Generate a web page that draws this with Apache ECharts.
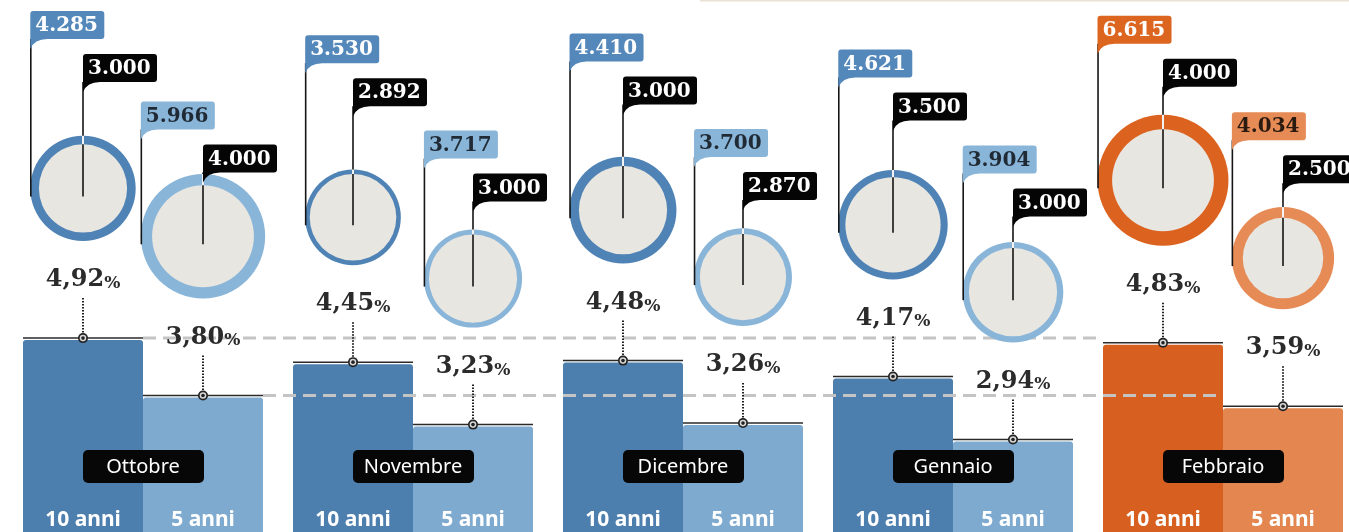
<!DOCTYPE html>
<html><head><meta charset="utf-8">
<script src="https://cdn.jsdelivr.net/npm/echarts@6/dist/echarts.min.js"></script>
<style>html,body{margin:0;padding:0;background:#fff}#c{width:1349px;height:532px}</style>
</head><body><div id="c"></div>
<script>
// ---- data ----
const months = ['Ottobre', 'Novembre', 'Dicembre', 'Gennaio', 'Febbraio'];
const tenors = ['10 anni', '5 anni'];
const yield10 = [4.92, 4.45, 4.48, 4.17, 4.83];     // rendimento BTP 10 anni (%)
const yield5 = [3.80, 3.23, 3.26, 2.94, 3.59];      // rendimento BTP 5 anni (%)
const requested10 = [4285, 3530, 4410, 4621, 6615]; // domanda 10 anni (mln)
const offered10 = [3000, 2892, 3000, 3500, 4000];   // offerta 10 anni (mln)
const requested5 = [5966, 3717, 3700, 3904, 4034];  // domanda 5 anni (mln)
const offered5 = [4000, 3000, 2870, 3000, 2500];    // offerta 5 anni (mln)
const highlightMonth = 'Febbraio';

// ---- style ----
const COL = {
  bar: [['#4c7eae', '#7eaad0'], ['#d75f1f', '#e3864f']],
  ring: [['#4f83b5', '#89b5d9'], ['#dc621f', '#e68b56']],
  flag: [['#5488bb', '#89b5d9'], ['#dc6520', '#e68b56']],
  flagText: [['#ffffff', '#1f2a35'], ['#ffffff', '#2a1a10']],
  inner: '#e8e6e1'
};
const BAR_W = 120;
const K = 0.805;
const SERIF = '"DejaVu Serif", Georgia, serif';
const SANS = '"Noto Sans", "Open Sans", sans-serif';

const fmtK = n => String(n).replace(/\B(?=(\d{3})+(?!\d))/g, '.');
const fmtPct = v => v.toFixed(2).replace('.', ',');
const isHi = i => months[i] === highlightMonth ? 1 : 0;

const annData = [];
months.forEach((m, i) => {
  annData.push([i, yield10[i], requested10[i], offered10[i], 0]);
  annData.push([i, yield5[i], requested5[i], offered5[i], 1]);
});

function flagPath(fx, fy, w, h) {
  return 'M' + fx + ',' + (fy + 3) + ' Q' + fx + ',' + fy + ' ' + (fx + 3) + ',' + fy +
    ' L' + (fx + w - 3) + ',' + fy + ' Q' + (fx + w) + ',' + fy + ' ' + (fx + w) + ',' + (fy + 3) +
    ' L' + (fx + w) + ',' + (fy + h - 3) + ' Q' + (fx + w) + ',' + (fy + h) + ' ' + (fx + w - 3) + ',' + (fy + h) +
    ' L' + (fx + 17) + ',' + (fy + h) + ' Q' + (fx + 4) + ',' + (fy + h) + ' ' + fx + ',' + (fy + h + 10) + ' Z';
}

function renderAnn(params, api) {
  const i = api.value(0), v = api.value(1), req = api.value(2), off = api.value(3), t = api.value(4);
  const hi = isHi(i);
  const cxGroup = api.coord([i, 5])[0];
  const x = cxGroup + (t === 0 ? -BAR_W / 2 : BAR_W / 2);
  const top = api.coord([i, v])[1];
  const lineY = top - 2;
  const rO = K * Math.sqrt(req), rI = K * Math.sqrt(off);
  const cy = top - 99 - rO;
  const blackTop = top - (t === 0 ? 286 : 253);
  const colTop = blackTop - 43;
  const fh = 28, fw = 74;
  const ch = [];
  ch.push({ type: 'circle', shape: { cx: x, cy: cy, r: rO }, style: { fill: COL.ring[hi][t] } });
  ch.push({ type: 'circle', shape: { cx: x, cy: cy, r: rI }, style: { fill: COL.inner } });
  ch.push({ type: 'line', shape: { x1: x - rO + 0.5, y1: colTop + fh, x2: x - rO + 0.5, y2: cy + 8 }, style: { stroke: '#151515', lineWidth: 1.6 } });
  ch.push({ type: 'line', shape: { x1: x, y1: blackTop + fh, x2: x, y2: cy + 8 }, style: { stroke: '#151515', lineWidth: 1.6 } });
  ch.push({ type: 'line', shape: { x1: x, y1: cy - rO, x2: x, y2: cy - rI }, style: { stroke: '#f2f2f2', lineWidth: 2 } });
  ch.push({ type: 'path', shape: { pathData: flagPath(x - rO, colTop, fw, fh) }, style: { fill: COL.flag[hi][t] } });
  ch.push({ type: 'text', x: x - rO + 5, y: colTop + fh / 2 + 1, style: { text: fmtK(req), font: 'bold 20px ' + SERIF, fill: COL.flagText[hi][t], align: 'left', verticalAlign: 'middle' } });
  ch.push({ type: 'path', shape: { pathData: flagPath(x, blackTop, fw, fh) }, style: { fill: '#050505' } });
  ch.push({ type: 'text', x: x + 5, y: blackTop + fh / 2 + 1, style: { text: fmtK(off), font: 'bold 20px ' + SERIF, fill: '#ffffff', align: 'left', verticalAlign: 'middle' } });
  ch.push({ type: 'line', shape: { x1: x - BAR_W / 2, y1: lineY, x2: x + BAR_W / 2, y2: lineY }, style: { stroke: '#2a2a2a', lineWidth: 1.5 } });
  ch.push({ type: 'line', shape: { x1: x, y1: lineY - 40, x2: x, y2: lineY - 5 }, style: { stroke: '#222', lineWidth: 2, lineDash: [1.5, 1.5] } });
  ch.push({ type: 'circle', shape: { cx: x, cy: lineY, r: 5 }, style: { fill: '#222' } });
  ch.push({ type: 'circle', shape: { cx: x, cy: lineY, r: 3.3 }, style: { fill: '#d8d8d8' } });
  ch.push({ type: 'circle', shape: { cx: x, cy: lineY, r: 1.8 }, style: { fill: '#222' } });
  ch.push({ type: 'text', x: x, y: lineY - 60, style: {
    text: '{a|' + fmtPct(v) + '}{b|%}', align: 'center', verticalAlign: 'middle',
    rich: { a: { fontFamily: SERIF, fontWeight: 'bold', fontSize: 24, fill: '#2b2b2b', lineHeight: 28, verticalAlign: 'bottom' },
            b: { fontFamily: SERIF, fontWeight: 'bold', fontSize: 17, fill: '#2b2b2b', lineHeight: 24, verticalAlign: 'bottom' } }
  } });
  return { type: 'group', children: ch };
}

function renderRef(params, api) {
  const n = months.length;
  const x0 = api.coord([0, 5])[0];
  const x1 = api.coord([n - 1, 5])[0];
  const y10 = api.coord([0, api.value(1)])[1] - 2;
  const y5 = api.coord([0, api.value(2)])[1] - 2;
  const st = { stroke: '#c4c4c4', lineWidth: 3, lineDash: [13, 7] };
  return { type: 'group', children: [
    { type: 'line', shape: { x1: x0, y1: y10, x2: x1 - BAR_W, y2: y10 }, style: st },
    { type: 'line', shape: { x1: x0 + BAR_W, y1: y5, x2: x1, y2: y5 }, style: st }
  ] };
}

function renderMonth(params, api) {
  const i = api.value(0);
  const cx = api.coord([i, 5])[0];
  const H = api.getHeight();
  return { type: 'group', children: [
    { type: 'rect', shape: { x: cx - 60, y: 450, width: 121, height: 33, r: 5 }, style: { fill: '#070707' } },
    { type: 'text', x: cx, y: 467, style: { text: months[i], font: '20px ' + SANS, fill: '#fff', align: 'center', verticalAlign: 'middle' } },
    { type: 'text', x: cx - BAR_W / 2, y: H - 12, style: { text: tenors[0], font: 'bold 21px ' + SANS, fill: '#fff', align: 'center', verticalAlign: 'middle' } },
    { type: 'text', x: cx + BAR_W / 2, y: H - 12, style: { text: tenors[1], font: 'bold 21px ' + SANS, fill: '#fff', align: 'center', verticalAlign: 'middle' } }
  ] };
}

const chart = echarts.init(document.getElementById('c'), null, { renderer: 'canvas' });
chart.setOption({
  animation: false,
  backgroundColor: '#ffffff',
  grid: { left: 8, right: -9, top: 80, bottom: 0, outerBoundsMode: 'none' },
  xAxis: { type: 'category', data: months, show: false, boundaryGap: true },
  yAxis: { type: 'value', min: 1.171875, max: 10, show: false },
  graphic: [{ type: 'line', shape: { x1: 700, y1: 0.5, x2: 1349, y2: 0.5 }, style: { stroke: '#e9e1d3', lineWidth: 2 } }],
  series: [
    { name: tenors[0], type: 'bar', barWidth: BAR_W, barGap: '0%', silent: true, z: 2,
      data: yield10.map((v, i) => ({ value: v, itemStyle: { color: COL.bar[isHi(i)][0], borderRadius: [3, 3, 0, 0] } })) },
    { name: tenors[1], type: 'bar', barWidth: BAR_W, barGap: '0%', silent: true, z: 2,
      data: yield5.map((v, i) => ({ value: v, itemStyle: { color: COL.bar[isHi(i)][1], borderRadius: [3, 3, 0, 0] } })) },
    { type: 'custom', z: 3, silent: true, renderItem: renderRef, encode: { x: 0, y: 1 },
      data: [[0, yield10[0], yield5[0]]] },
    { type: 'custom', z: 4, silent: true, renderItem: renderMonth, encode: { x: 0 },
      data: months.map((m, i) => [i]) },
    { type: 'custom', z: 5, silent: true, renderItem: renderAnn, encode: { x: 0, y: 1 },
      data: annData }
  ]
});
</script></body></html>
